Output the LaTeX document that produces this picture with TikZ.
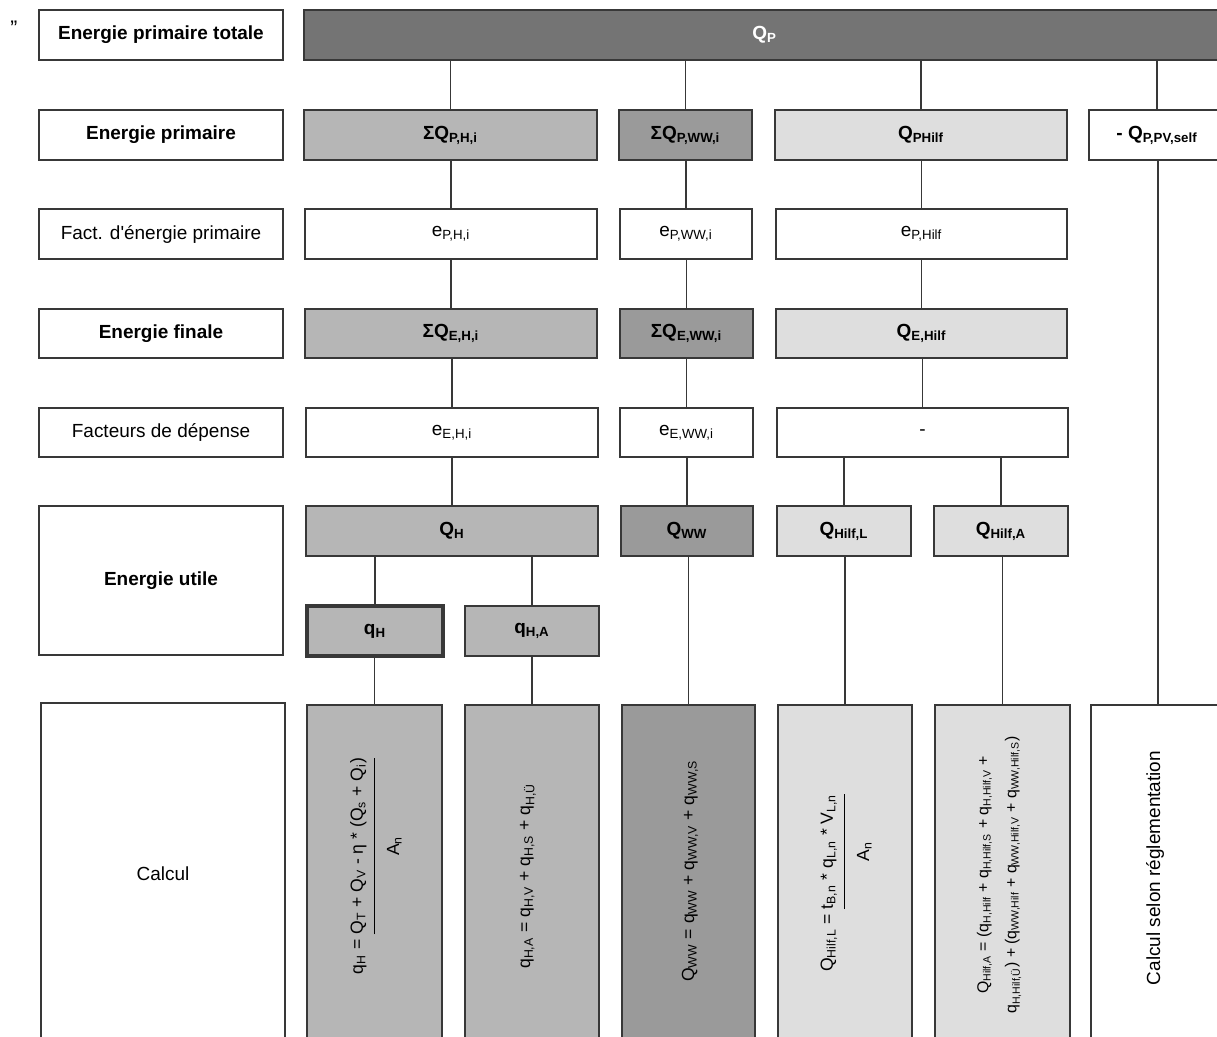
\documentclass[tikz,border=0pt]{standalone}
\usepackage{fontspec}
\setmainfont{Liberation Sans}
\definecolor{cP}{HTML}{747474}
\definecolor{cH}{HTML}{B6B6B6}
\definecolor{cW}{HTML}{9A9A9A}
\definecolor{cL}{HTML}{DEDEDE}
\definecolor{ln}{HTML}{383838}
\newcommand\sbs[1]{\textsubscript{#1}}
\newcommand\bb[7]{\node[#6, minimum width={(#4-#2)*0.02cm}, minimum height={(#5-#3)*0.02cm}] (#1) at (#2,#3) {#7};}
\begin{document}
\begin{tikzpicture}[x=0.02cm,y=-0.02cm,
  base/.style={draw=ln, line width=0.9pt, inner sep=0pt, outer sep=0pt, anchor=north west, align=center, font=\fontsize{10.8}{13}\selectfont},
  lab/.style={base, fill=white, font=\fontsize{10.8}{13}\selectfont\bfseries},
  lbl/.style={base, fill=white},
  wh/.style={base, fill=white},
  hbox/.style={base, fill=cH},
  wbox/.style={base, fill=cW},
  lbox/.style={base, fill=cL},
  topbar/.style={base, fill=cP, text=white},
  rot/.style={rotate=90, inner sep=0pt, align=center, font=\fontsize{10}{14}\selectfont},
  conn/.style={draw=ln, line width=0.95pt}]
\useasboundingbox (0,0) rectangle (1217,1036);
\node[font=\fontsize{12}{12}\selectfont] (qm) at (14,28) {”};
% left labels
\bb{lt}{39}{10}{283}{60}{lab}{Energie primaire totale}
\bb{lp}{39}{110}{283}{160}{lab}{Energie primaire}
\bb{lf}{39}{209}{283}{259}{lbl}{Fact. d\textquotesingle énergie primaire}
\bb{le}{39}{309}{283}{358}{lab}{Energie finale}
\bb{ld}{39}{408}{283}{457}{lbl}{Facteurs de dépense}
\bb{lu}{39}{506}{283}{655}{lab}{Energie utile}
\bb{lc}{41}{703}{285}{1045}{lbl}{Calcul}
% top bar
\bb{QP}{304}{10}{1225}{60}{topbar}{\textbf{Q\sbs{P}}}
% row 2
\bb{PH}{304}{110}{597}{160}{hbox}{\textbf{ΣQ\sbs{P,H,i}}}
\bb{PW}{619}{110}{752}{160}{wbox}{\textbf{ΣQ\sbs{P,WW,i}}}
\bb{PL}{775}{110}{1067}{160}{lbox}{\textbf{Q\sbs{PHilf}}}
\bb{PV}{1089}{110}{1225}{160}{wh}{\textbf{- Q\sbs{P,PV,self}}}
% row 3
\bb{eP}{305}{209}{597}{259}{wh}{e\sbs{P,H,i}}
\bb{eW}{620}{209}{752}{259}{wh}{e\sbs{P,WW,i}}
\bb{eL}{776}{209}{1067}{259}{wh}{e\sbs{P,Hilf}}
% row 4
\bb{EH}{305}{309}{597}{358}{hbox}{\textbf{ΣQ\sbs{E,H,i}}}
\bb{EW}{620}{309}{753}{358}{wbox}{\textbf{ΣQ\sbs{E,WW,i}}}
\bb{EL}{776}{309}{1067}{358}{lbox}{\textbf{Q\sbs{E,Hilf}}}
% row 5
\bb{dH}{306}{408}{598}{457}{wh}{e\sbs{E,H,i}}
\bb{dW}{620}{408}{753}{457}{wh}{e\sbs{E,WW,i}}
\bb{dL}{777}{408}{1068}{457}{wh}{-}
% row 6
\bb{QH}{306}{506}{598}{556}{hbox}{\textbf{Q\sbs{H}}}
\bb{QW}{621}{506}{753}{556}{wbox}{\textbf{Q\sbs{WW}}}
\bb{QHL}{777}{506}{911}{556}{lbox}{\textbf{Q\sbs{Hilf,L}}}
\bb{QHA}{934}{506}{1068}{556}{lbox}{\textbf{Q\sbs{Hilf,A}}}
% row 7
\bb{qH}{307}{606}{443}{656}{hbox, line width=1.8pt}{\textbf{q\sbs{H}}}
\bb{qHA}{465}{606}{599}{656}{hbox}{\textbf{q\sbs{H,A}}}
% row 8
\bb{c1}{307}{705}{442}{1045}{hbox}{}
\bb{c2}{465}{705}{599}{1045}{hbox}{}
\bb{c3}{622}{705}{755}{1045}{wbox}{}
\bb{c4}{778}{705}{912}{1045}{lbox}{}
\bb{c5}{935}{705}{1070}{1045}{lbox}{}
\bb{c6}{1091}{705}{1225}{1045}{wh}{}
% formulas
\node[rot] (f1) at (376,866) {q\sbs{H} = \begin{tabular}[t]{@{}c@{}}Q\sbs{T} + Q\sbs{V} - η * (Q\sbs{s} + Q\sbs{i})\\[2pt]\hline\rule{0pt}{14pt}A\sbs{n}\end{tabular}};
\node[rot] (f2) at (528,876) {q\sbs{H,A} = q\sbs{H,V} + q\sbs{H,S} + q\sbs{H,Ü}};
\node[rot] (f3) at (690,871) {Q\sbs{WW} = q\sbs{WW} + q\sbs{WW,V} + q\sbs{WW,S}};
\node[rot] (f4) at (846,883) {Q\sbs{Hilf,L} = \begin{tabular}[t]{@{}c@{}}t\sbs{B,n} * q\sbs{L,n} * V\sbs{L,n}\\[2pt]\hline\rule{0pt}{14pt}A\sbs{n}\end{tabular}};
\node[rot, font=\fontsize{9}{16}\selectfont] (f5) at (999,875) {Q\sbs{Hilf,A} = (q\sbs{H,Hilf} + q\sbs{H,Hilf,S} + q\sbs{H,Hilf,V} +\\ q\sbs{H,Hilf,Ü}) + (q\sbs{WW,Hilf} + q\sbs{WW,Hilf,V} + q\sbs{WW,Hilf,S})};
\node[rot, font=\fontsize{10.8}{13}\selectfont] (f6) at (1155,868) {Calcul selon réglementation};
% connectors
\foreach \a/\b in {QP/PH,PH/eP,eP/EH,EH/dH,dH/QH,QH/qH,QH/qHA,qH/c1,qHA/c2,
                   QP/PW,PW/eW,eW/EW,EW/dW,dW/QW,QW/c3,
                   QP/PL,PL/eL,eL/EL,EL/dL,dL/QHL,dL/QHA,QHL/c4,QHA/c5,
                   QP/PV,PV/c6}
  \draw[conn] (\a.south -| \b.north) -- (\b.north);
\end{tikzpicture}
\end{document}
